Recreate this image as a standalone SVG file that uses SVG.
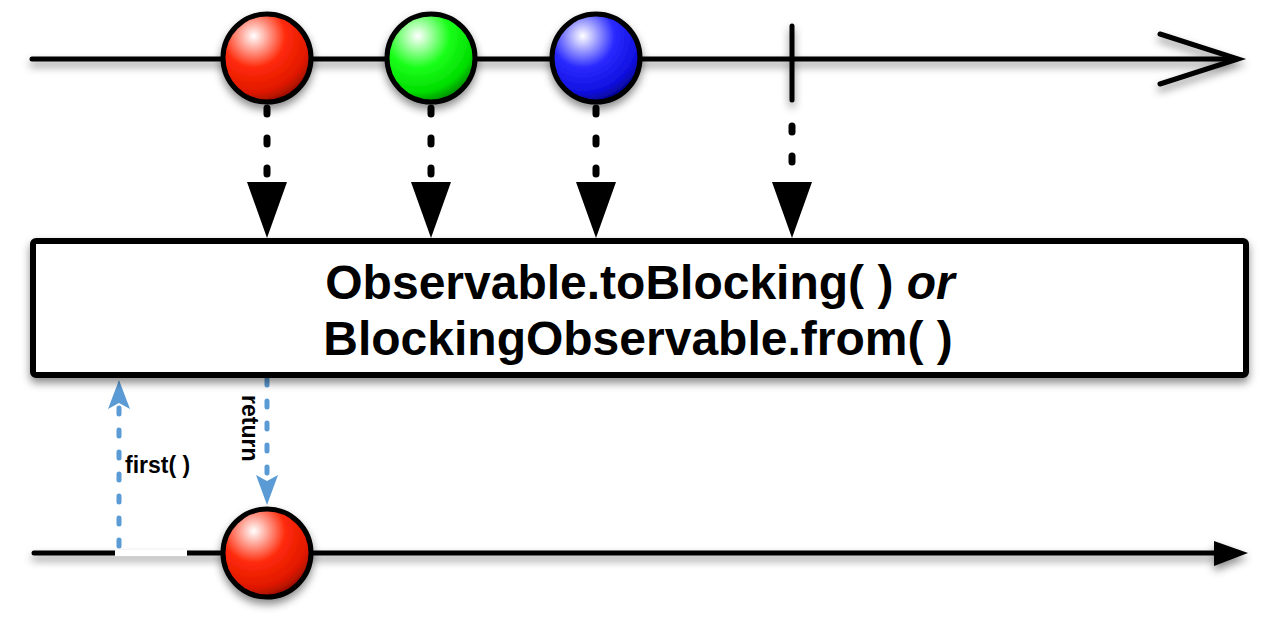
<svg xmlns="http://www.w3.org/2000/svg" width="1280" height="630" viewBox="0 0 1280 630">
<defs>
<filter id="sh" x="-20%" y="-50%" width="140%" height="200%">
<feDropShadow dx="0" dy="5" stdDeviation="4" flood-color="#000" flood-opacity="0.45"/>
</filter>
<radialGradient id="gRed" cx="0.35" cy="0.25" r="0.8">
<stop offset="0" stop-color="#ffffff"/>
<stop offset="0.45" stop-color="#ff2a0a"/>
<stop offset="0.8" stop-color="#e01800"/>
<stop offset="1" stop-color="#8a0c00"/>
</radialGradient>
<radialGradient id="gGreen" cx="0.35" cy="0.25" r="0.8">
<stop offset="0" stop-color="#ffffff"/>
<stop offset="0.45" stop-color="#1aff1a"/>
<stop offset="0.8" stop-color="#00dd00"/>
<stop offset="1" stop-color="#007a00"/>
</radialGradient>
<radialGradient id="gBlue" cx="0.35" cy="0.25" r="0.8">
<stop offset="0" stop-color="#ffffff"/>
<stop offset="0.45" stop-color="#2a2aff"/>
<stop offset="0.8" stop-color="#1010e0"/>
<stop offset="1" stop-color="#00007a"/>
</radialGradient>
</defs>
<style>
.tl{stroke:#000;stroke-width:5;fill:none;stroke-linecap:round}
.marble{stroke:#000;stroke-width:5}
.dash{stroke:#000;stroke-width:7;stroke-linecap:round;stroke-dasharray:6 24;fill:none}
.bdash{stroke:#5B9BD5;stroke-width:5;stroke-linecap:round;stroke-dasharray:6 16;fill:none}
.tri{fill:#000}
.btri{fill:#5B9BD5}
.big{font-family:"Liberation Sans",Arial,sans-serif;font-weight:bold;font-size:48px;fill:#000}
.small{font-family:"Liberation Sans",Arial,sans-serif;font-weight:bold;font-size:23px;fill:#000}
</style>

<g id="top-timeline" filter="url(#sh)">
<line class="tl" x1="32" y1="59" x2="1236" y2="59"/>
<polyline class="tl" points="1160,34 1238,59 1160,84"/>
<line class="tl" x1="792" y1="26" x2="792" y2="100"/>
</g>

<g id="marble-red-top" filter="url(#sh)"><circle class="marble" cx="267" cy="58" r="44" fill="url(#gRed)"/></g>
<g id="marble-green-top" filter="url(#sh)"><circle class="marble" cx="431" cy="58" r="44" fill="url(#gGreen)"/></g>
<g id="marble-blue-top" filter="url(#sh)"><circle class="marble" cx="596" cy="58" r="44" fill="url(#gBlue)"/></g>

<g id="connectors">
<line class="dash" x1="267" y1="108" x2="267" y2="178"/>
<polygon class="tri" points="247,182 287,182 267,238"/>
<line class="dash" x1="431" y1="108" x2="431" y2="178"/>
<polygon class="tri" points="411,182 451,182 431,238"/>
<line class="dash" x1="596" y1="108" x2="596" y2="178"/>
<polygon class="tri" points="576,182 616,182 596,238"/>
<line class="dash" x1="792" y1="126" x2="792" y2="186"/>
<polygon class="tri" points="772,182 812,182 792,238"/>
<line class="bdash" x1="119" y1="546" x2="119" y2="405"/>
<polygon class="btri" points="119,380 130,409 119,403 108,409"/>
<line class="bdash" x1="267" y1="379" x2="267" y2="478"/>
<polygon class="btri" points="267,505 278,475 267,481 256,475"/>
</g>

<g id="operator-box">
<rect x="33" y="241" width="1213" height="134" rx="3" fill="#fff" stroke="#000" stroke-width="6" filter="url(#sh)"/>
<text class="big" x="640" y="299" text-anchor="middle">Observable.toBlocking( ) <tspan font-style="italic">or</tspan></text>
<text class="big" x="638" y="355" text-anchor="middle">BlockingObservable.from( )</text>
</g>

<g id="label-first"><text class="small" x="125" y="473">first( )</text></g>
<g id="label-return"><text class="small" transform="translate(242,395) rotate(90)">return</text></g>

<g id="bottom-timeline" filter="url(#sh)">
<line class="tl" x1="34" y1="553" x2="1216" y2="553"/>
<polygon class="tri" points="1214,541 1248,553 1214,566"/>
</g>
<rect id="gap" x="115" y="550" width="72" height="6" fill="#fff"/>

<g id="marble-red-bottom" filter="url(#sh)"><circle class="marble" cx="267" cy="553" r="44" fill="url(#gRed)"/></g>
</svg>
